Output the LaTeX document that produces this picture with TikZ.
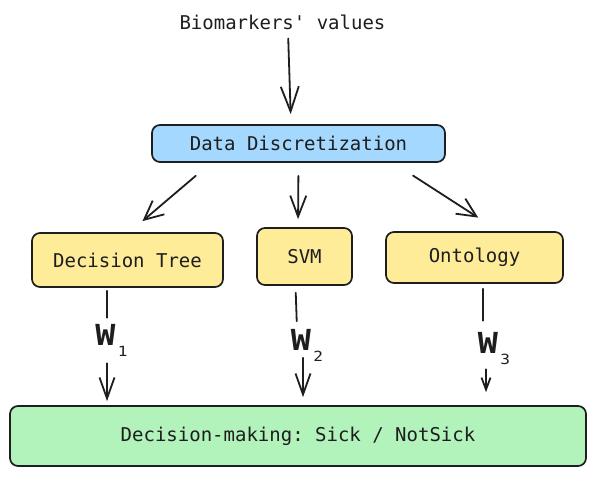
\documentclass[tikz,border=0pt]{standalone}
\usepackage{fontspec}
\setmonofont{DejaVu Sans Mono}
\usetikzlibrary{arrows.meta}
\definecolor{ink}{HTML}{1E1E1E}
\definecolor{ddblue}{HTML}{A5D8FF}
\definecolor{mlyellow}{HTML}{FFEC99}
\definecolor{dmgreen}{HTML}{B2F2BB}
\newcommand{\wsub}[1]{W\rlap{\smash{\hspace{2pt}\raisebox{-11pt}{\mdseries\fontsize{14}{14}\selectfont #1}}}}

\begin{document}
\begin{tikzpicture}[x=1pt, y=-1pt,
    box/.style={draw=ink, line width=1.7pt, rounded corners=8pt, inner sep=0pt, text=ink,
      font=\ttfamily\fontsize{19}{22}\selectfont},
    conn/.style={draw=ink, line width=1.8pt, line cap=round},
    arr/.style={conn, -{Straight Barb[length=19pt, width=18pt, line width=1.8pt]}},
    wlab/.style={inner sep=0pt, text=ink, font=\ttfamily\bfseries\fontsize{29}{29}\selectfont}]
    \useasboundingbox[fill=white] (0,0) rectangle (596,476);

    \node[text=ink, inner sep=2pt, font=\ttfamily\fontsize{19}{22}\selectfont] (bio) at (282.5,22) {Biomarkers' values};
    \node[box, fill=ddblue, minimum width=293pt, minimum height=37pt] (dd) at (298.5,143.5) {Data Discretization};

    \node[box, fill=mlyellow, minimum width=191pt, minimum height=54pt] (dt) at (127.5,260) {Decision Tree};
    \node[box, fill=mlyellow, minimum width=95pt, minimum height=57pt] (svm) at (304.5,256.5) {SVM};
    \node[box, fill=mlyellow, minimum width=177pt, minimum height=51pt] (onto) at (474.5,257.5) {Ontology};

    \node[wlab] (w1) at (105.5,334.5) {\scalebox{1.15}[1]{\wsub{1}}};
    \node[wlab] (w2) at (301,340) {\scalebox{1.15}[1]{\wsub{2}}};
    \node[wlab] (w3) at (488,342.5) {\scalebox{1.15}[1]{\wsub{3}}};

    \node[box, fill=dmgreen, minimum width=576pt, minimum height=60pt] (dm) at (298,436) {Decision-making: Sick / NotSick};

    \draw[arr, -{Straight Barb[length=25pt, width=18pt, line width=1.8pt]}, shorten <=7pt, shorten >=10pt]
      ([xshift=5.5pt]bio.south) -- ([xshift=-7.5pt]dd.north);

    \draw[arr, shorten <=20pt, shorten >=17pt] ([xshift=-87.5pt]dd.south) -- ([xshift=2pt]dt.north);
    \draw[arr, -{Straight Barb[length=21pt, width=16pt, line width=1.8pt]}, shorten <=13pt, shorten >=8pt]
      (dd.south) -- ([xshift=-6.5pt]svm.north);
    \draw[arr, shorten <=23.5pt, shorten >=25pt] ([xshift=94.8pt]dd.south) -- ([xshift=24.7pt]onto.north);

    \draw[conn, shorten <=3pt, shorten >=6pt] ([xshift=-20.5pt]dt.south) -- ([xshift=1.5pt]w1.north);
    \draw[conn, shorten <=7pt, shorten >=8pt] ([xshift=-9pt]svm.south) -- ([xshift=-4pt]w2.north);
    \draw[conn, shorten <=5pt, shorten >=11pt] ([xshift=8.5pt]onto.south) -- ([xshift=-5pt]w3.north);

    \draw[arr, -{Straight Barb[length=21pt, width=15pt, line width=1.8pt]}, shorten <=18pt, shorten >=4pt]
      ([xshift=1.5pt]w1.south) -- ([xshift=-191pt]dm.north);
    \draw[arr, -{Straight Barb[length=21pt, width=15pt, line width=1.8pt]}, shorten <=7pt, shorten >=8pt]
      ([xshift=2pt]w2.south) -- ([xshift=5pt]dm.north);
    \draw[arr, -{Straight Barb[length=12pt, width=9pt, line width=1.8pt]}, shorten <=16pt, shorten >=13pt]
      ([xshift=-2pt]w3.south) -- ([xshift=188pt]dm.north);
\end{tikzpicture}
\end{document}
